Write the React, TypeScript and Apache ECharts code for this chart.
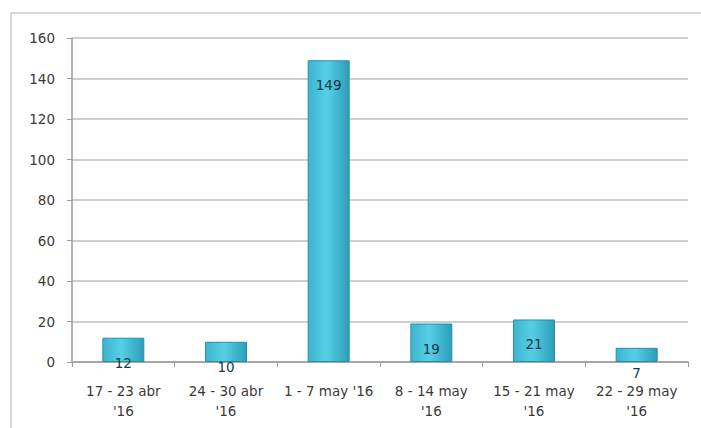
import React, { useEffect, useRef } from "react";
import * as echarts from "echarts";

const categories = [
  "17 - 23 abr\n'16",
  "24 - 30 abr\n'16",
  "1 - 7 may '16",
  "8 - 14 may\n'16",
  "15 - 21 may\n'16",
  "22 - 29 may\n'16",
];
const values = [12, 10, 149, 19, 21, 7];
const yTicks = [0, 20, 40, 60, 80, 100, 120, 140, 160];

export default function App() {
  const ref = useRef<HTMLDivElement>(null);
  useEffect(() => {
    if (!ref.current) return;
    const chart = echarts.init(ref.current, undefined, { renderer: "svg" });
    const barColor = new echarts.graphic.LinearGradient(0, 0, 1, 0, [
      { offset: 0, color: "#3cb4cf" },
      { offset: 0.45, color: "#56cfe6" },
      { offset: 1, color: "#2c9db8" },
    ]);
    chart.setOption({
      animation: false,
      backgroundColor: "#ffffff",
      textStyle: { fontFamily: "DejaVu Sans" },
      graphic: [
        {
          type: "rect",
          shape: { x: 11, y: 13, width: 720, height: 440 },
          style: { fill: "none", stroke: "#cccccc", lineWidth: 1.5 },
          silent: true,
        },
      ],
      grid: { left: 72, right: 13, top: 38, bottom: 66 },
      xAxis: {
        type: "category",
        data: categories,
        axisLine: { lineStyle: { color: "#9a9a9a", width: 1.5 } },
        axisTick: { show: true, length: 5, lineStyle: { color: "#9a9a9a" } },
        axisLabel: {
          color: "#3a3a3a",
          fontSize: 13.5,
          lineHeight: 20,
          margin: 19,
          interval: 0,
        },
      },
      yAxis: {
        type: "value",
        min: yTicks[0],
        max: yTicks[yTicks.length - 1],
        interval: 20,
        axisLine: { show: true, lineStyle: { color: "#9a9a9a", width: 1.5 } },
        axisTick: { show: true, length: 5, lineStyle: { color: "#9a9a9a" } },
        axisLabel: { color: "#3a3a3a", fontSize: 13.5, margin: 17 },
        splitLine: { lineStyle: { color: "#cfcfcf", width: 2 } },
      },
      series: [
        {
          type: "bar",
          data: values,
          barWidth: 42,
          itemStyle: {
            color: barColor,
            borderColor: "#2a8ea8",
            borderWidth: 1,
          },
          label: {
            show: true,
            position: "insideTop",
            distance: 18,
            color: "#163848",
            fontSize: 13.5,
          },
        },
      ],
    });
    return () => chart.dispose();
  }, []);
  return (
    <div
      ref={ref}
      style={{ position: "fixed", left: 0, top: 0, width: 701, height: 428 }}
    />
  );
}
